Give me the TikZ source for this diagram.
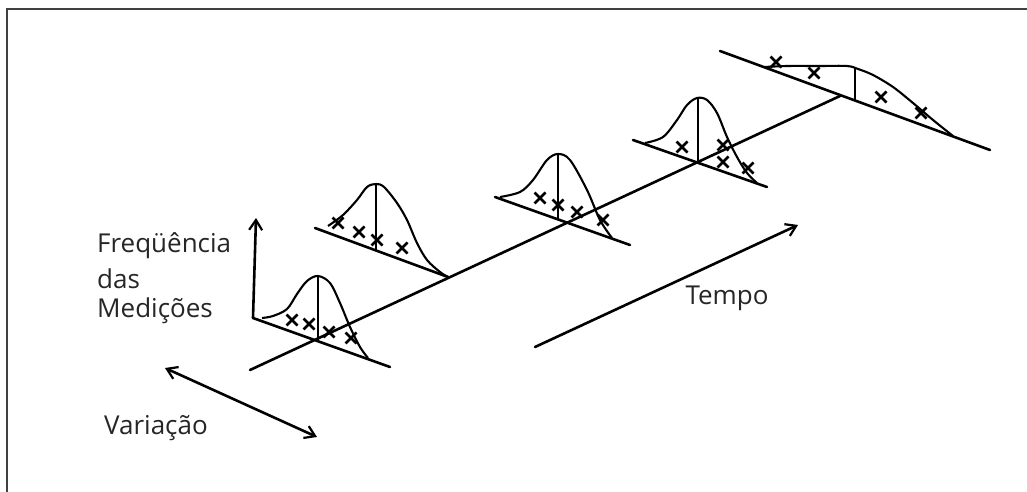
\documentclass[tikz,border=0pt]{standalone}
\usepackage{fontspec}
\setmainfont{Open Sans}
\usetikzlibrary{arrows.meta}
\begin{document}
\begin{tikzpicture}[x=1pt,y=-1pt,
  ln/.style={line width=2.6pt,line cap=round},
  crv/.style={line width=2.1pt,smooth,tension=0.55},
  vl/.style={line width=2pt},
  arr/.style={ln,-{Straight Barb[length=10pt,width=13pt,line width=2.2pt]}},
  darr/.style={ln,{Straight Barb[length=10pt,width=13pt,line width=2.2pt]}-{Straight Barb[length=10pt,width=13pt,line width=2.2pt]}},
  lbl/.style={font=\fontsize{26}{32}\selectfont,text=black!85,inner sep=0pt,anchor=west},
  mk/.style={line width=2.6pt}]
\useasboundingbox (0,0) rectangle (1027,492);
\fill[white] (0,0) rectangle (1027,492);
% frame
\draw[line width=2pt,black!75] (7,492) -- (7,9) -- (1027,9);
% time line
\coordinate (t0) at (250,370);
\coordinate (t1) at (840,96);
\draw[ln] (t0) -- (t1);
% dist 1
\coordinate (b1a) at (253,318); \coordinate (b1b) at (390,367);
\coordinate (p1) at (318,276); \coordinate (c1) at (318,341);
\coordinate (ax1) at (256,218);
\draw[ln] (b1a) -- (b1b);
\draw[vl] (p1) -- (c1);
\draw[crv] plot coordinates {(262,318) (273,316) (287,309) (297,294) (307,281) (318,276) (330,283) (340,303) (350,327) (360,347) (368,358)};
\draw[arr] (b1a) -- (ax1);
\foreach \p in {(292,320),(309,324),(329,332),(351,338)} {\draw[mk] \p ++(-5.5,-5.5) -- ++(11,11) \p ++(5.5,-5.5) -- ++(-11,11);}
% dist 2
\coordinate (b2a) at (315,228); \coordinate (b2b) at (448,277);
\coordinate (p2) at (376,184); \coordinate (c2) at (376,250);
\draw[ln] (b2a) -- (b2b);
\draw[vl] (p2) -- (c2);
\draw[crv] plot coordinates {(328,226) (343,215) (357,200) (367,187) (376,184) (384,187) (397,203) (407,220) (417,243) (427,260) (440,272) (448,277)};
\foreach \p in {(338,223),(359,232),(377,240),(402,248)} {\draw[mk] \p ++(-5.5,-5.5) -- ++(11,11) \p ++(5.5,-5.5) -- ++(-11,11);}
% dist 3
\coordinate (b3a) at (495,197); \coordinate (b3b) at (630,245);
\coordinate (p3) at (558,154); \coordinate (c3) at (558,220);
\draw[ln] (b3a) -- (b3b);
\draw[vl] (p3) -- (c3);
\draw[crv] plot coordinates {(500,197) (520,192) (533,180) (547,160) (558,154) (570,160) (587,190) (600,220) (612,238)};
\foreach \p in {(540,198),(558,205),(577,212),(603,220)} {\draw[mk] \p ++(-5.5,-5.5) -- ++(11,11) \p ++(5.5,-5.5) -- ++(-11,11);}
% dist 4
\coordinate (b4a) at (633,140); \coordinate (b4b) at (767,187);
\coordinate (p4) at (698,98); \coordinate (c4) at (698,163);
\draw[ln] (b4a) -- (b4b);
\draw[vl] (p4) -- (c4);
\draw[crv] plot coordinates {(645,143) (663,137) (677,120) (687,105) (697,98) (707,100) (717,113) (727,137) (737,157) (747,173) (757,183)};
\foreach \p in {(682,147),(723,145),(723,162),(748,168)} {\draw[mk] \p ++(-5.5,-5.5) -- ++(11,11) \p ++(5.5,-5.5) -- ++(-11,11);}
% dist 5
\coordinate (b5a) at (720,51); \coordinate (b5b) at (990,150);
\coordinate (p5) at (855,68); \coordinate (c5) at (855,100);
\draw[ln] (b5a) -- (b5b);
\draw[vl] (p5) -- (c5);
\draw[crv] plot coordinates {(765,67) (787,66) (820,66) (847,66) (858,69) (873,75) (893,87) (913,103) (933,120) (953,136)};
\foreach \p in {(776,62),(814,73),(881,97),(921,113)} {\draw[mk] \p ++(-5.5,-5.5) -- ++(11,11) \p ++(5.5,-5.5) -- ++(-11,11);}
% Tempo arrow
\coordinate (ta) at (535,347); \coordinate (tb) at (798,225);
\draw[arr] (ta) -- (tb);
\node[lbl,anchor=center] (tempo) at (727,298) {Tempo};
% Variacao arrow
\coordinate (va) at (165,368); \coordinate (vb) at (317,437);
\draw[darr] (va) -- (vb);
\node[lbl] (var) at (104,428) {Variação};
\node[lbl] (f1) at (97,246) {Freqüência};
\node[lbl] (f2) at (97,279) {das};
\node[lbl] (f3) at (97,311) {Medições};
\end{tikzpicture}
\end{document}
